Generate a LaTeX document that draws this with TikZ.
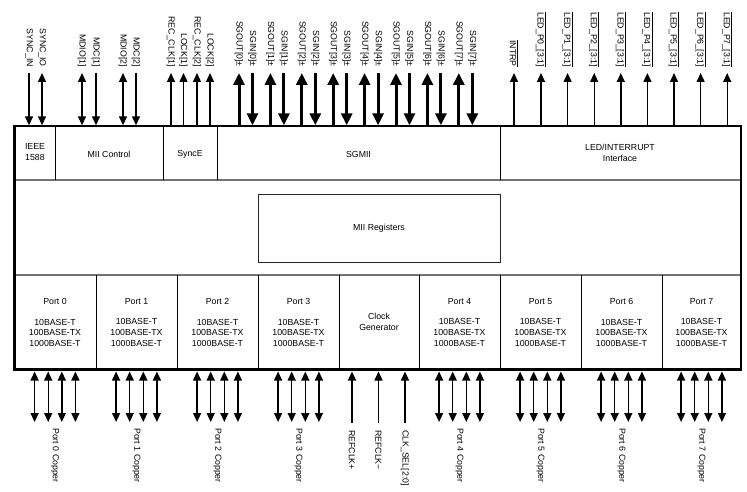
\documentclass[tikz,border=0pt]{standalone}
\usepackage{fontspec}
\setmainfont{Liberation Sans}
\usetikzlibrary{arrows.meta}
\tikzset{
  txt/.style={inner sep=0pt, align=center, font=\fontsize{8.8}{11}\selectfont},
  toplab/.style={txt, rotate=-90, anchor=east},
  botlab/.style={txt, rotate=-90, anchor=west},
  outerline/.style={line width=2.6bp, line join=miter},
  vdiv/.style={line width=0.9bp, black},
  hdiv/.style={line width=1.4bp, black!55},
  regbox/.style={line width=0.9bp, black!85},
  sig/.style={line width=1.4bp},
  pin in/.style={sig, -{Triangle[length=9bp,width=8bp]}},
  pin out/.style={sig, {Triangle[length=9bp,width=8bp]}-},
  pin bi/.style={sig, {Triangle[length=9bp,width=8bp]}-{Triangle[length=9bp,width=8bp]}},
  sg out/.style={line width=3bp, {Triangle[length=12bp,width=11bp]}-},
  sg in/.style={line width=3bp, -{Triangle[length=12bp,width=11bp]}},
}
\newcommand\toppin[4]{%
  \node[toplab] (#1) at (#2,67) {#4};
  \coordinate (#1-a) at (#2,73);
  \coordinate (#1-b) at (#2,125.3);
  \draw[#3] (#1-a) -- (#1-b);
}
\newcommand\botpin[3]{%
  \coordinate (#1-a) at (#2,371.5);
  \coordinate (#1-b) at (#2,#3);
  \draw[pin bi] (#1-a) -- (#1-b);
}
\newcommand\copperport[3]{%
  \botpin{#1a}{#2-20.4}{422}
  \botpin{#1b}{#2-6.8}{422}
  \botpin{#1c}{#2+6.8}{422}
  \botpin{#1d}{#2+20.4}{422}
  \node[botlab] (#1lab) at (#2,428) {#3};
}
\newcommand\ledlab[1]{$\overline{\hbox{#1}}$}
\begin{document}
\begin{tikzpicture}[x=1bp,y=-1bp]
\useasboundingbox (0,0) rectangle (747,492);
% chip body
\draw[hdiv] (14.5,180) -- (741,180);
\draw[hdiv] (14.5,275) -- (741,275);
\foreach \xx in {55,163,217,500} \draw[vdiv] (\xx,126) -- (\xx,180);
\foreach \xx in {96,177,258,339,419,500,581,662} \draw[vdiv] (\xx,275) -- (\xx,369.5);
\draw[outerline] (14.5,126) rectangle (741,369.5);
% top-row blocks
\node[txt] (ieee) at (35,152.5) {IEEE\\1588};
\node[txt] (miictl) at (109,154.5) {MII Control};
\node[txt] (synce) at (190,154.5) {SyncE};
\node[txt] (sgmii) at (358.5,154.5) {SGMII};
\node[txt] (led) at (620,153) {LED/INTERRUPT\\Interface};
% MII registers
\node[regbox, draw, minimum width=242bp, minimum height=68bp, inner sep=0pt] (miireg) at (379,228) {};
\node[txt] (miiregt) at (miireg.center) {MII Registers};
% ports
\foreach \nm/\cx/\k in {p0/55/0,p1/136.5/1,p2/217.5/2,p3/298.5/3,p4/459.5/4,p5/540.5/5,p6/621.5/6,p7/701.5/7}
  \node[txt] (\nm) at (\cx,322.5) {Port \k\\[10bp]10BASE-T\\100BASE-TX\\1000BASE-T};
\node[txt] (clkgen) at (379,322) {Clock\\Generator};
% top pins
\toppin{syncin}{29}{pin in}{SYNC\_IN}
\toppin{syncio}{42}{pin bi}{SYNC\_IO}
\toppin{mdioa}{82}{pin bi}{MDIO[1]}
\toppin{mdca}{96}{pin in}{MDC[1]}
\toppin{mdiob}{123}{pin bi}{MDIO[2]}
\toppin{mdcb}{136}{pin in}{MDC[2]}
\toppin{recclka}{171}{pin out}{REC\_CLK[1]}
\toppin{locka}{183.5}{pin out}{LOCK[1]}
\toppin{recclkb}{197}{pin out}{REC\_CLK[2]}
\toppin{lockb}{210}{pin out}{LOCK[2]}
\foreach \i in {0,...,7}{
  \pgfmathsetmacro\xo{239+31.4*\i}
  \pgfmathsetmacro\xi{252.5+31.4*\i}
  \toppin{sgout\i}{\xo}{sg out}{SGOUT[\i]±}
  \toppin{sgin\i}{\xi}{sg in}{SGIN[\i]±}
}
\toppin{intrp}{514}{pin out}{\ledlab{INTRP}}
\foreach \i in {0,...,7}{
  \pgfmathsetmacro\xl{541+26.6*\i}
  \toppin{led\i}{\xl}{pin out}{\ledlab{LED\_P\i\_[3:1]}}
}
% bottom pins
\copperport{cu0}{55}{Port 0 Copper}
\copperport{cu1}{136.5}{Port 1 Copper}
\copperport{cu2}{217.5}{Port 2 Copper}
\copperport{cu3}{298.5}{Port 3 Copper}
\copperport{cu4}{459.5}{Port 4 Copper}
\copperport{cu5}{540.5}{Port 5 Copper}
\copperport{cu6}{621.5}{Port 6 Copper}
\copperport{cu7}{701.5}{Port 7 Copper}
\coordinate (refp-a) at (352,371.5); \coordinate (refp-b) at (352,423);
\coordinate (refn-a) at (378.5,371.5); \coordinate (refn-b) at (378.5,423);
\coordinate (clksel-a) at (405,371.5); \coordinate (clksel-b) at (405,423);
\draw[pin out] (refp-a) -- (refp-b);
\draw[pin out] (refn-a) -- (refn-b);
\draw[pin out] (clksel-a) -- (clksel-b);
\node[botlab] (refp) at (352,430) {REFCLK+};
\node[botlab] (refn) at (378.5,430) {REFCLK−};
\node[botlab] (clksel) at (405,430) {CLK\_SEL[2:0]};
\end{tikzpicture}
\end{document}
